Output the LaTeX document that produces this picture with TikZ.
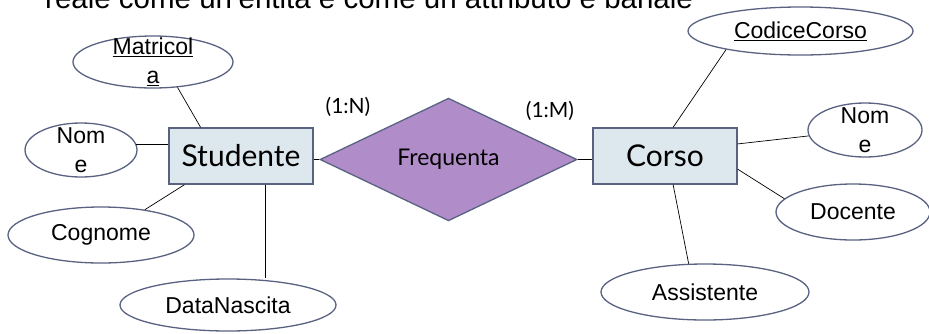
\documentclass[tikz,border=0pt]{standalone}
\usepackage{fontspec}
\setmainfont{Liberation Sans}
\newfontfamily\gill{Lato}
\usetikzlibrary{shapes.geometric,calc}
\definecolor{rectfill}{HTML}{DDE8EE}
\definecolor{edge}{HTML}{5A6282}
\definecolor{relfill}{HTML}{B08DC8}
\begin{document}
\begin{tikzpicture}[x=1pt,y=-1pt,
  attr/.style={ellipse, draw=edge, line width=1.3pt, fill=white, inner sep=0pt},
  attrtxt/.style={font=\fontsize{23}{29}\selectfont, align=center, inner sep=0pt},
  entity/.style={rectangle, draw=edge, line width=1.5pt, fill=rectfill, minimum width=144pt, minimum height=56pt, inner sep=0pt, font=\gill\fontsize{30}{36}\selectfont},
  rel/.style={diamond, draw=edge, line width=1.3pt, fill=relfill, minimum width=257pt, minimum height=81pt, inner sep=0pt, font=\gill\fontsize{23}{27}\selectfont},
  conn/.style={draw=black, line width=0.7pt},
  card/.style={font=\gill\fontsize{21}{25}\selectfont, inner sep=0pt}]
\clip (0,0) rectangle (929,333);
\fill[white] (0,0) rectangle (929,333);

\node[anchor=base west, font=\fontsize{29.5}{34}\selectfont, inner sep=0pt] (title) at (45,8) {reale come un'entità e come un attributo è banale};

% entities and relationship
\node[entity] (stud) at (241,156) {Studente};
\node[rel] (freq) at (448.5,159.5) {Frequenta};
\node[entity] (corso) at (665,156) {Corso};

% attributes of Studente
\node[attr, minimum width=160pt, minimum height=52pt] (matr) at (153,62) {};
\node[attrtxt] (matrt) at (matr) {\underline{Matricol}\\\underline{a}};
\node[attr, minimum width=112pt, minimum height=54pt] (nomeS) at (81,150) {};
\node[attrtxt] (nomeSt) at (nomeS) {Nom\\e};
\node[attr, minimum width=186pt, minimum height=56pt] (cog) at (101,235) {};
\node[attrtxt] (cogt) at (cog) {Cognome};
\node[attr, minimum width=216pt, minimum height=52pt] (data) at (228,305) {};
\node[attrtxt] (datat) at (data) {DataNascita};

% attributes of Corso
\node[attr, minimum width=225pt, minimum height=48pt] (cc) at (800.5,31) {};
\node[attrtxt] (cct) at (cc) {\underline{CodiceCorso}};
\node[attr, minimum width=114pt, minimum height=54pt] (nomeC) at (865,130) {};
\node[attrtxt] (nomeCt) at (nomeC) {Nom\\e};
\node[attr, minimum width=154pt, minimum height=56pt] (doc) at (853,212) {};
\node[attrtxt] (doct) at (doc) {Docente};
\node[attr, minimum width=208pt, minimum height=56pt] (ass) at (705,292) {};
\node[attrtxt] (asst) at (ass) {Assistente};

% cardinalities
\node[card] (cardN) at (348,107) {(1:N)};
\node[card] (cardM) at (550,111) {(1:M)};

% connectors
\draw[conn] (matr.-46) -- ($(stud.north west)!0.222!(stud.north east)$);
\draw[conn] (nomeS.6) -- (nomeS.6 -| stud.west);
\draw[conn] (cog.30) -- ($(stud.south west)!0.111!(stud.south east)$);
\coordinate (sd) at ($(stud.south west)!0.667!(stud.south east)$);
\draw[conn] (sd) -- (sd |- data.north);
\draw[conn] (freq.west) -- (freq.west -| stud.east);
\draw[conn] (freq.east) -- (freq.east -| corso.west);
\draw[conn] ($(corso.north west)!0.556!(corso.north east)$) -- (cc.194);
\draw[conn] ($(corso.north east)!0.29!(corso.south east)$) -- (nomeC.186);
\draw[conn] ($(corso.north east)!0.73!(corso.south east)$) -- (doc.169);
\draw[conn] ($(corso.south west)!0.556!(corso.south east)$) -- (ass.120);
\end{tikzpicture}
\end{document}
